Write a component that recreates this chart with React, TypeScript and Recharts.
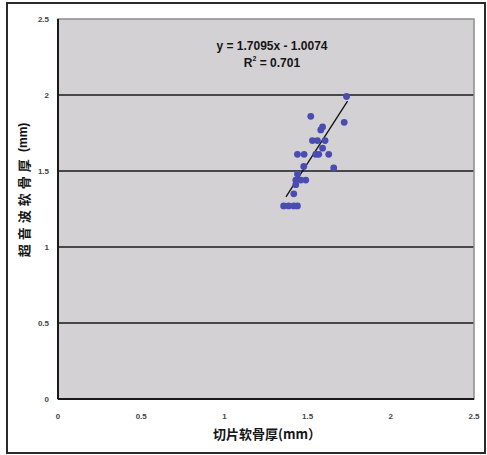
import { ScatterChart, Scatter, XAxis, YAxis, CartesianGrid, ReferenceArea } from 'recharts';

// values (x = section cartilage thickness, y = ultrasound thickness)
const sliceThickness = [
  1.734, 1.519, 1.72, 1.579, 1.59, 1.529, 1.559, 1.605, 1.59, 1.439, 1.479, 1.549, 1.567,
  1.627, 1.657, 1.477, 1.439, 1.429, 1.459, 1.489, 1.429, 1.417, 1.356, 1.386, 1.417, 1.439,
];
const ultrasoundThickness = [
  1.99, 1.86, 1.82, 1.77, 1.79, 1.7, 1.7, 1.7, 1.65, 1.61, 1.61, 1.61, 1.61,
  1.61, 1.52, 1.53, 1.48, 1.44, 1.44, 1.44, 1.41, 1.35, 1.27, 1.27, 1.27, 1.27,
];
// fitted line ends, as drawn
const trendX = [1.37, 1.74];
const trendY = [1.33, 1.96];

const axisTicks = [0, 0.5, 1, 1.5, 2, 2.5];
const gridLines = [0.5, 1, 1.5, 2];
const equationText = 'y = 1.7095x - 1.0074';
const rSquaredText = '0.701';
const xTitle = '切片软骨厚(mm）';
const yTitleMain = '超音波软骨厚';
const yTitleUnit = ' (mm)';

const points = sliceThickness.map((x, i) => ({ x, y: ultrasoundThickness[i] }));
const trend = trendX.map((x, i) => ({ x, y: trendY[i] }));

const tickStyle = { fontSize: 8, fontWeight: 700, fill: '#444', fontFamily: 'Liberation Sans, Arial, sans-serif' };
const cjk = '"Noto Sans CJK SC", "Noto Sans CJK JP", sans-serif';

export default function App() {
  return (
    <div style={{ position: 'absolute', left: 0, top: 0, width: 487, height: 455, background: '#fff' }}>
      <div
        style={{
          position: 'absolute',
          left: 6,
          top: 2,
          width: 476,
          height: 448,
          border: '2px solid #2a2a2a',
        }}
      />
      <ScatterChart
        width={487}
        height={455}
        margin={{ top: 19, right: 13, bottom: 26, left: 18 }}
        style={{ position: 'absolute', left: 0, top: 0 }}
      >
        <CartesianGrid
          vertical={false}
          horizontalValues={gridLines}
          stroke="#1a1a1a"
          strokeWidth={1.5}
          fill="#d3d1d3"
          fillOpacity={1}
        />
        <ReferenceArea x1={0} x2={2.5} y1={0} y2={2.5} fill="none" stroke="#8c8c8c" strokeWidth={1.5} />
        <XAxis
          type="number"
          dataKey="x"
          domain={[0, 2.5]}
          ticks={axisTicks}
          height={30}
          tickSize={0}
          tickMargin={14}
          tick={tickStyle}
          axisLine={{ stroke: '#1a1a1a', strokeWidth: 2 }}
          tickLine={false}
        />
        <YAxis
          type="number"
          dataKey="y"
          domain={[0, 2.5]}
          ticks={axisTicks}
          width={40}
          tickSize={0}
          tickMargin={9}
          tick={tickStyle}
          axisLine={{ stroke: '#1a1a1a', strokeWidth: 2 }}
          tickLine={false}
        />
        <Scatter
          data={trend}
          line={{ stroke: '#111', strokeWidth: 1.3 }}
          shape={() => <g />}
          isAnimationActive={false}
        />
        <Scatter
          data={points}
          shape={(p: any) => <circle cx={p.cx} cy={p.cy} r={3.4} fill="#4a4cb2" />}
          isAnimationActive={false}
        />
        <text
          x={272}
          y={46}
          textAnchor="middle"
          dominantBaseline="central"
          style={{ fontSize: 12, fontWeight: 700, fill: '#151515', fontFamily: 'Liberation Sans, Arial, sans-serif' }}
        >
          {equationText}
        </text>
        <text
          x={272}
          y={63}
          textAnchor="middle"
          dominantBaseline="central"
          style={{ fontSize: 12, fontWeight: 700, fill: '#151515', fontFamily: 'Liberation Sans, Arial, sans-serif' }}
        >
          R<tspan dy={-5} fontSize={7}>2</tspan>
          <tspan dy={5}> = {rSquaredText}</tspan>
        </text>
        <text
          x={267}
          y={433}
          textAnchor="middle"
          dominantBaseline="central"
          style={{ fontSize: 13, fontWeight: 700, fill: '#151515', fontFamily: cjk }}
        >
          {xTitle}
        </text>
        <text
          x={23}
          y={190}
          transform="rotate(-90 23 190)"
          textAnchor="middle"
          dominantBaseline="central"
          style={{ fontSize: 13, fontWeight: 700, fill: '#151515', fontFamily: cjk }}
        >
          <tspan letterSpacing={4}>{yTitleMain}</tspan>
          <tspan fontFamily="Liberation Sans, Arial, sans-serif" fontSize={12}>{yTitleUnit}</tspan>
        </text>
      </ScatterChart>
    </div>
  );
}
